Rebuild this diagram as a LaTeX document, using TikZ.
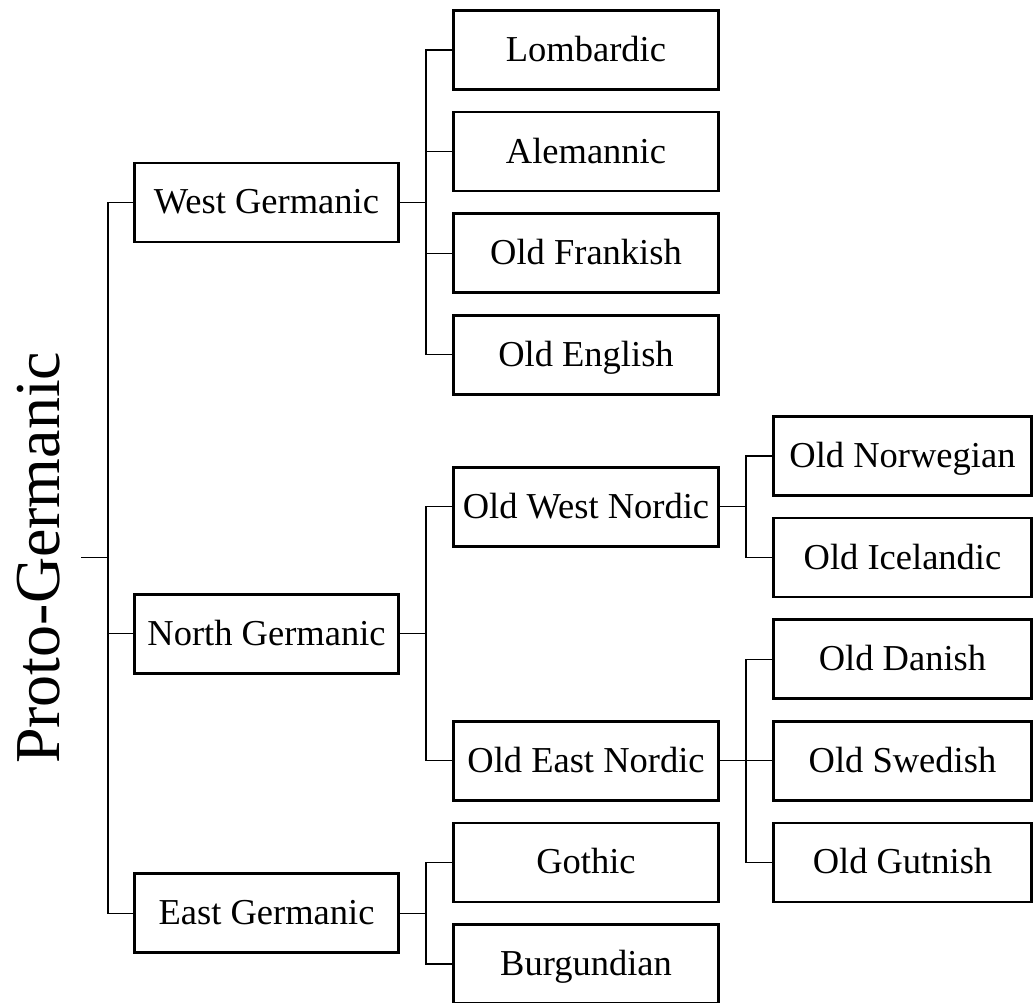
\documentclass[tikz,border=0pt]{standalone}
\usepackage{fontspec}
\setmainfont{Liberation Serif}
\usetikzlibrary{positioning, calc}

\begin{document}
\begin{tikzpicture}[x=1pt, y=1pt, node distance=10pt, langnode/.style={rectangle, draw=black, line width=1.3pt, minimum height=39.5pt, inner sep=0pt, text height=12.2pt, text depth=0.7pt, font=\fontsize{18.25}{22}\selectfont}, groupnode/.style={langnode, minimum width=132.2pt}, midnode/.style={langnode, minimum width=132.7pt}, leafnode/.style={langnode, minimum width=129.2pt}, rootnode/.style={rotate=90, anchor=base, inner sep=10pt, font=\fontsize{32}{38}\selectfont}, link/.style={line width=0.6pt}]

    \useasboundingbox (0,0) rectangle (517,-501);

    %Columns
    \coordinate (rootcol) at (30,0);
    \coordinate (groupcol) at (133.25,0);

    %Nodes
    \node[midnode](lombardic) at (293,-25) {Lombardic};
    \node[midnode](alemannic)[below=of lombardic]{Alemannic};
    \node[midnode](frankish)[below=of alemannic]{Old Frankish};
    \node[midnode](english)[below=of frankish]{Old English};

    \node[leafnode](norwegian) at (451.25,-228) {Old Norwegian};
    \node[leafnode](icelandic)[below=of norwegian]{Old Icelandic};
    \node[leafnode](danish)[below=of icelandic]{Old Danish};
    \node[leafnode](swedish)[below=of danish]{Old Swedish};
    \node[leafnode](gutnish)[below=of swedish]{Old Gutnish};

    \coordinate (wncentre) at ($(norwegian)!0.5!(icelandic)$);
    \node[midnode](westnordic) at (wncentre -| lombardic) {Old West Nordic};
    \node[midnode](eastnordic) at (swedish -| lombardic) {Old East Nordic};
    \node[midnode](gothic) at (gutnish -| lombardic) {Gothic};
    \node[midnode](burgundian)[below=of gothic]{Burgundian};

    \coordinate (wgcentre) at ($(lombardic)!0.5!(english)$);
    \coordinate (ngcentre) at ($(westnordic)!0.5!(eastnordic)$);
    \coordinate (egcentre) at ($(gothic)!0.5!(burgundian)$);
    \node[groupnode](westgerm) at (wgcentre -| groupcol) {West Germanic};
    \node[groupnode](northgerm) at (ngcentre -| groupcol) {North Germanic};
    \node[groupnode](eastgerm) at (egcentre -| groupcol) {East Germanic};

    \coordinate (pgcentre) at ($(westgerm)!0.5!(eastgerm)$);
    \node[rootnode](protogerm) at (pgcentre -| rootcol) {Proto-Germanic};

    %Lines
    \foreach \kid in {westgerm, northgerm, eastgerm}
        \draw[link] (protogerm.south) -- ++(13.5,0) |- (\kid.west);
    \foreach \kid in {lombardic, alemannic, frankish, english}
        \draw[link] (westgerm.east) -- ++(13,0) |- (\kid.west);
    \foreach \kid in {westnordic, eastnordic}
        \draw[link] (northgerm.east) -- ++(13,0) |- (\kid.west);
    \foreach \kid in {gothic, burgundian}
        \draw[link] (eastgerm.east) -- ++(13,0) |- (\kid.west);
    \foreach \kid in {norwegian, icelandic}
        \draw[link] (westnordic.east) -- ++(13,0) |- (\kid.west);
    \foreach \kid in {danish, swedish, gutnish}
        \draw[link] (eastnordic.east) -- ++(13,0) |- (\kid.west);

\end{tikzpicture}
\end{document}
